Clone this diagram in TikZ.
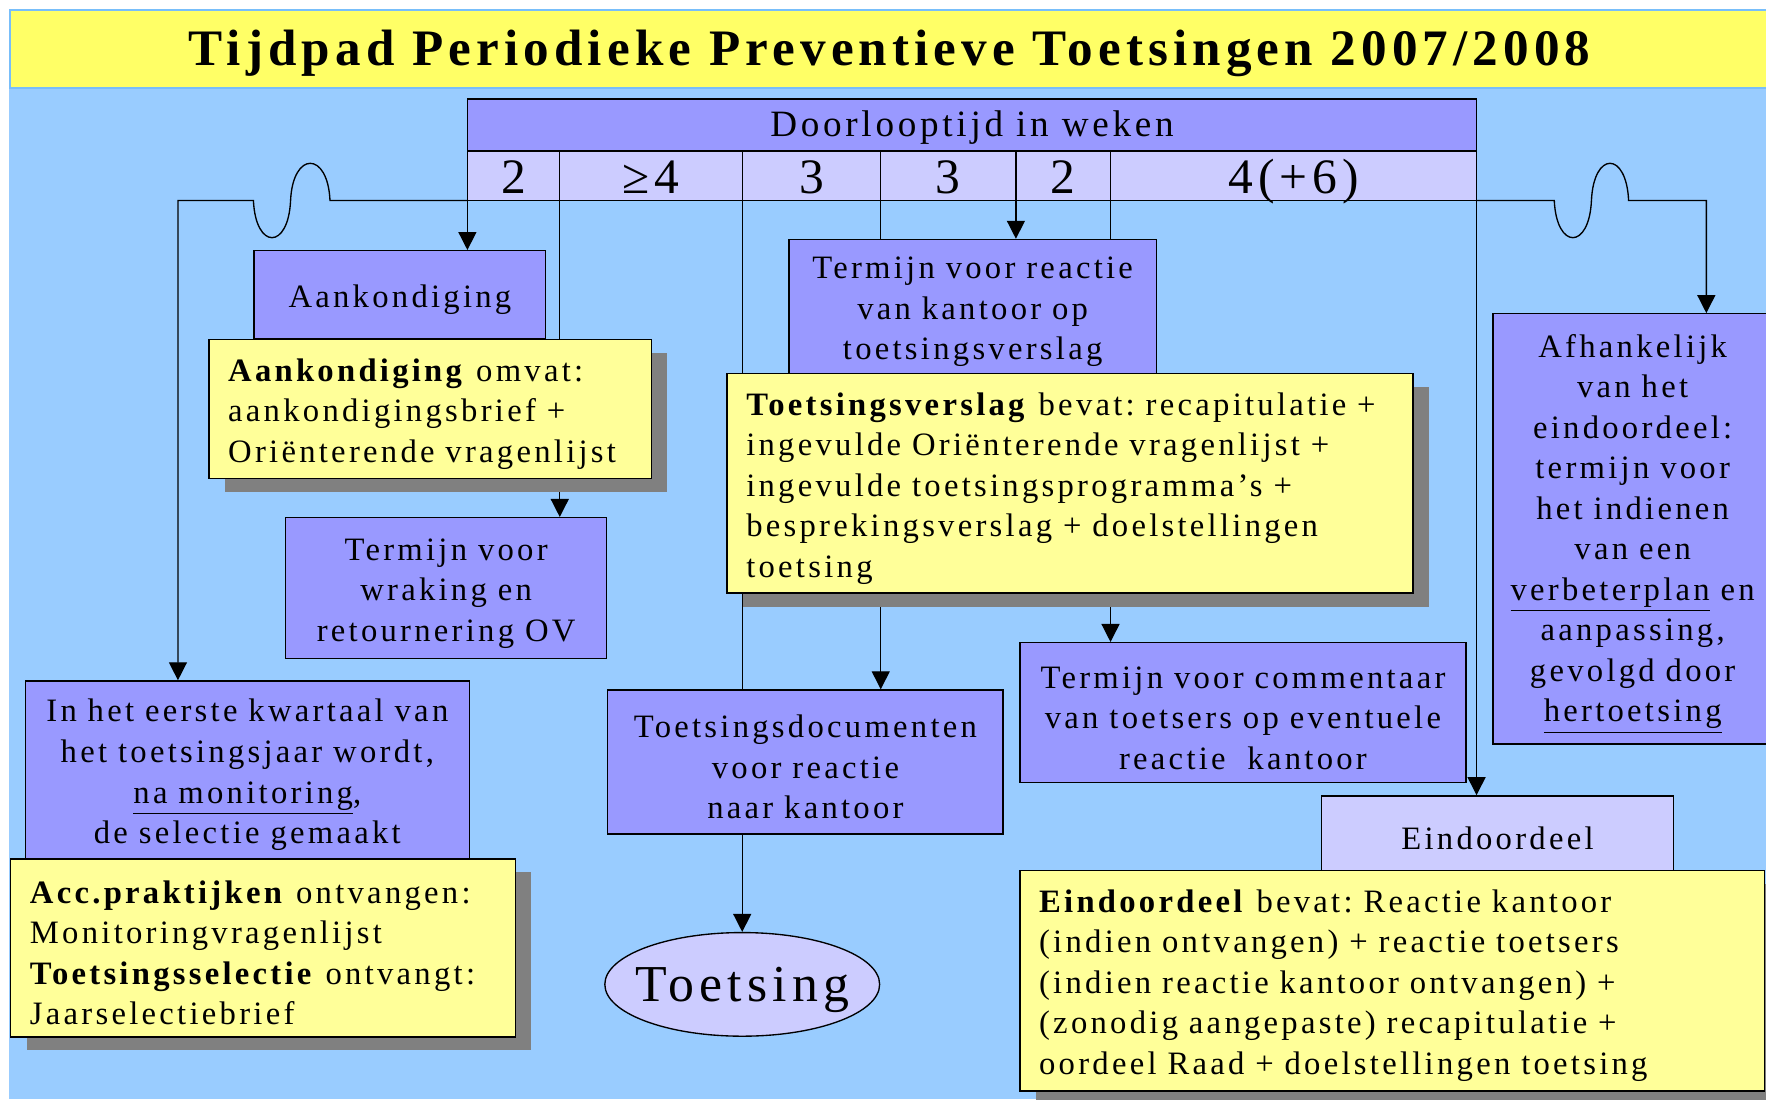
\documentclass[tikz,border=0pt]{standalone}
\usepackage{fontspec}
\setmainfont{Liberation Serif}[LetterSpace=10]
\frenchspacing
\usetikzlibrary{shapes.geometric, arrows.meta, positioning, calc, shadows}

\definecolor{skyblue}{RGB}{153,204,255}
\definecolor{lilac}{RGB}{153,153,255}
\definecolor{palelilac}{RGB}{204,204,255}
\definecolor{paleyellow}{RGB}{255,255,153}
\definecolor{titleyellow}{RGB}{255,255,102}
\definecolor{shadowgrey}{RGB}{128,128,128}
\definecolor{bandline}{RGB}{120,190,250}

\pgfdeclarelayer{back}
\pgfdeclarelayer{links}
\pgfsetlayers{back,links,main}

\tikzset{
  bodyfont/.style={font=\fontsize{14.5}{18}\selectfont,
    execute at begin node={\rule{0pt}{14.5pt}}},
  termbox/.style={bodyfont, draw, line width=0.6pt, fill=lilac, align=center,
    inner sep=0pt, anchor=north west},
  infobox/.style={bodyfont, draw, line width=0.6pt, fill=paleyellow, align=left,
    inner xsep=8.5pt, inner ysep=0pt, anchor=north west,
    drop shadow={shadow xshift=7pt, shadow yshift=-6pt, opacity=1, fill=shadowgrey}},
  cell/.style={draw, line width=0.6pt, fill=palelilac, inner sep=0pt, outer sep=0pt,
    minimum height=22pt, text height=18pt, text depth=2pt, font=\fontsize{22}{24}\selectfont},
  link/.style={line width=0.6pt},
  >={Triangle[length=8pt, width=8pt]}
}

\begin{document}
\begin{tikzpicture}[x=0.5pt, y=-0.5pt]
\useasboundingbox (0,0) rectangle (1568,976);

% background
\begin{pgfonlayer}{back}
\fill[white] (0,0) rectangle (1568,976);
\fill[skyblue] (8,8) rectangle (1568,976);
\end{pgfonlayer}

% title band
\node[draw=bandline, line width=0.8pt, fill=titleyellow, anchor=north west, inner sep=0pt,
  minimum width=781pt, minimum height=34.5pt, text height=16pt, text depth=1.5pt,
  font=\fontsize{22.7}{26}\selectfont\bfseries] (title) at (8,8)
  {Tijdpad Periodieke Preventieve Toetsingen 2007/2008};

% duration table
\node[cell, fill=lilac, anchor=north west, minimum width=448pt, minimum height=23pt,
  text height=12pt, text depth=1.5pt, font=\fontsize{16.5}{18}\selectfont] (dur) at (415,88)
  {Doorlooptijd in weken};
\node[cell, anchor=north west, minimum width=41pt] (c1) at (dur.south west) {2};
\node[cell, right=0pt of c1, minimum width=81pt] (c2) {≥4};
\node[cell, right=0pt of c2, minimum width=61.5pt] (c3) {3};
\node[cell, right=0pt of c3, minimum width=60pt] (c4) {3};
\node[cell, right=0pt of c4, minimum width=42pt] (c5) {2};
\node[cell, right=0pt of c5, minimum width=162.5pt] (c6) {4(+6)};

% left column
\node[termbox, text width=129.5pt, minimum height=39pt] (ank) at (225,222) {Aankondiging};
\node[infobox, text width=179.5pt, minimum height=61.5pt] (ankinfo) at (185,301)
  {\textbf{Aankondiging} omvat:\\ aankondigingsbrief +\\ Oriënterende vragenlijst};
\node[termbox, text width=142.5pt, minimum height=62.5pt] (wrak) at (253,459)
  {Termijn voor\\ wraking en\\ retournering OV};
\node[termbox, text width=197pt, minimum height=79pt] (kwart) at (22,604)
  {In het eerste kwartaal van\\ het toetsingsjaar wordt,\\ \underline{na monitoring},\\ de selectie gemaakt};
\node[infobox, text width=207pt, minimum height=79pt] (acc) at (9,762)
  {\textbf{Acc.praktijken} ontvangen:\\ Monitoringvragenlijst\\ \textbf{Toetsingsselectie} ontvangt:\\ Jaarselectiebrief};

% middle column
\node[termbox, text width=163pt, minimum height=59.5pt] (reactie) at (700,212)
  {Termijn voor reactie\\ van kantoor op\\ toetsingsverslag};
\node[infobox, text width=287.5pt, minimum height=97.5pt] (verslag) at (645,331)
  {\textbf{Toetsingsverslag} bevat: recapitulatie +\\ ingevulde Oriënterende vragenlijst +\\ ingevulde toetsingsprogramma’s +\\ besprekingsverslag + doelstellingen\\ toetsing};
\node[termbox, text width=175.5pt, minimum height=64pt] (docs) at (539,612)
  {Toetsingsdocumenten\\ voor reactie\\ naar kantoor};
\node[ellipse, draw, line width=0.6pt, fill=palelilac, minimum width=122pt, minimum height=46pt,
  inner xsep=-10pt, inner ysep=0pt, text depth=0pt, font=\fontsize{23}{27}\selectfont] (toets) at (659,874) {Toetsing};

% right column
\node[termbox, text width=198pt, minimum height=62pt] (comm) at (905,570)
  {Termijn voor commentaar\\ van toetsers op eventuele\\ reactie\ \ kantoor};
\node[termbox, text width=124pt, minimum height=191pt] (afh) at (1325,278)
  {Afhankelijk\\ van het\\ eindoordeel:\\ termijn voor\\ het indienen\\ van een\\ \underline{verbeterplan} en\\ aanpassing,\\ gevolgd door\\ \underline{hertoetsing}};
\node[termbox, fill=palelilac, text width=156pt, minimum height=33pt] (eind) at (1173,706) {Eindoordeel};
\node[infobox, text width=313.5pt, minimum height=98pt] (eindinfo) at (905,772)
  {\textbf{Eindoordeel} bevat: Reactie kantoor\\ (indien ontvangen) + reactie toetsers\\ (indien reactie kantoor ontvangen) +\\ (zonodig aangepaste) recapitulatie +\\ oordeel Raad + doelstellingen toetsing};

% time line and connectors
\begin{pgfonlayer}{links}
\coordinate (tl) at (158,178);
\coordinate (wl) at (293,178);
\coordinate (wr) at (1380,178);
\coordinate (tr) at (1515,178);
\draw[link,->] (c1.south west) -- (wl)
  .. controls +(-2,-44) and +(2,-44) .. ++(-35,0)
  .. controls +(-2,44) and +(2,44) .. ++(-33,0)
  -- (tl) -- (tl |- kwart.north);
\draw[link,->] (c6.south east) -- (wr)
  .. controls +(2,44) and +(-2,44) .. ++(33,0)
  .. controls +(2,-44) and +(-2,-44) .. ++(33,0)
  -- (tr) -- (tr |- afh.north);
\draw[link,->] (c1.south west) -- (c1.south west |- ank.north);
\draw[link,->] (c2.south west) -- (c2.south west |- wrak.north);
\draw[link] (c3.south west) -- (c3.south west |- docs.north);
\draw[link,->] (c4.south west) -- (c4.south west |- docs.north);
\draw[link,->] (c5.south west) -- (c5.south west |- reactie.north);
\draw[link,->] (c6.south west) -- (c6.south west |- comm.north);
\draw[link,->] (c6.south east) -- (c6.south east |- eind.north);
\draw[link,->] (docs.south -| toets.north) -- (toets.north);
\end{pgfonlayer}
\end{tikzpicture}
\end{document}
